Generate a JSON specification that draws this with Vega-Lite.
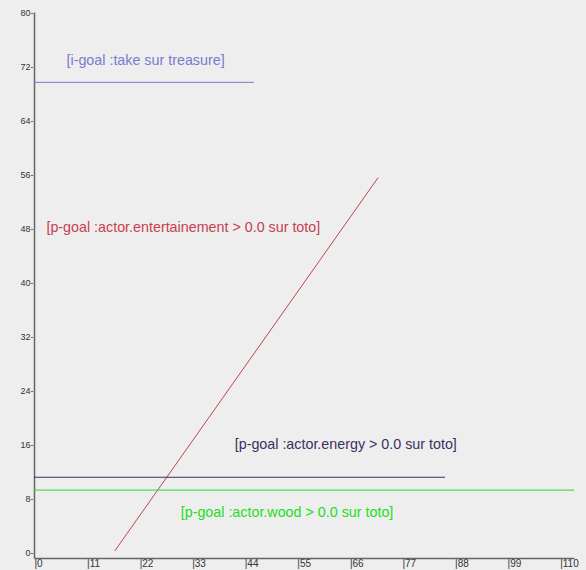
{
  "$schema": "https://vega.github.io/schema/vega-lite/v6.json",
  "width": 540,
  "height": 546,
  "autosize": {"type": "none"},
  "padding": {"left": 34, "top": 12, "right": 12, "bottom": 12},
  "background": "#eeeeee",
  "config": {"view": {"stroke": null}, "font": "Liberation Sans"},
  "datasets": {
    "lines": [
      {"series": "igoal", "x": 0, "y": 69.6, "o": 0},
      {"series": "igoal", "x": 46, "y": 69.6, "o": 1},
      {"series": "ent", "x": 16.9, "y": 0.3, "o": 0},
      {"series": "ent", "x": 72, "y": 55.5, "o": 1},
      {"series": "energy", "x": 0, "y": 11.2, "o": 0},
      {"series": "energy", "x": 86, "y": 11.2, "o": 1},
      {"series": "wood", "x": 0, "y": 9.3, "o": 0},
      {"series": "wood", "x": 113, "y": 9.3, "o": 1}
    ],
    "labels": [
      {"series": "igoal", "x": 6.8, "y": 72.8, "text": "[i-goal :take sur treasure]"},
      {"series": "ent", "x": 2.6, "y": 48.1, "text": "[p-goal :actor.entertainement > 0.0 sur toto]"},
      {"series": "energy", "x": 42, "y": 16, "text": "[p-goal :actor.energy > 0.0 sur toto]"},
      {"series": "wood", "x": 30.7, "y": 5.9, "text": "[p-goal :actor.wood > 0.0 sur toto]"}
    ]
  },
  "layer": [
    {
      "data": {"name": "lines"},
      "mark": {"type": "line", "strokeWidth": 1, "clip": false},
      "encoding": {
        "x": {"field": "x", "type": "quantitative", "scale": {"domain": [0, 113], "nice": false, "zero": false},
          "axis": {"values": [0, 11, 22, 33, 44, 55, 66, 77, 88, 99, 110], "title": null, "ticks": false, "grid": false,
            "labelExpr": "'|' + datum.label", "labelFontSize": 10, "labelColor": "#333333", "labelPadding": 0,
            "labelAlign": "left", "labelFlush": false, "domainColor": "#666666", "domainWidth": 1.5}},
        "y": {"field": "y", "type": "quantitative", "scale": {"domain": [-0.74, 80], "nice": false, "zero": false},
          "axis": {"values": [0, 8, 16, 24, 32, 40, 48, 56, 64, 72, 80], "title": null, "ticks": false, "grid": false,
            "labelExpr": "datum.label + '-'", "labelFontSize": 9, "labelColor": "#333333", "labelPadding": 1,
            "labelFlush": false, "domainColor": "#666666", "domainWidth": 1.5}},
        "color": {"field": "series", "type": "nominal", "legend": null,
          "scale": {"domain": ["igoal", "ent", "energy", "wood"], "range": ["#7a7ad0", "#c84050", "#3a3060", "#22dd22"]}},
        "order": {"field": "o"}
      }
    },
    {
      "data": {"name": "labels"},
      "mark": {"type": "text", "align": "left", "baseline": "middle", "fontSize": 14.3, "font": "Liberation Sans"},
      "encoding": {
        "x": {"field": "x", "type": "quantitative"},
        "y": {"field": "y", "type": "quantitative"},
        "text": {"field": "text"},
        "color": {"field": "series", "type": "nominal", "legend": null,
          "scale": {"domain": ["igoal", "ent", "energy", "wood"], "range": ["#6a6ac8", "#c0303c", "#3a3060", "#22cc22"]}}
      }
    }
  ]
}
